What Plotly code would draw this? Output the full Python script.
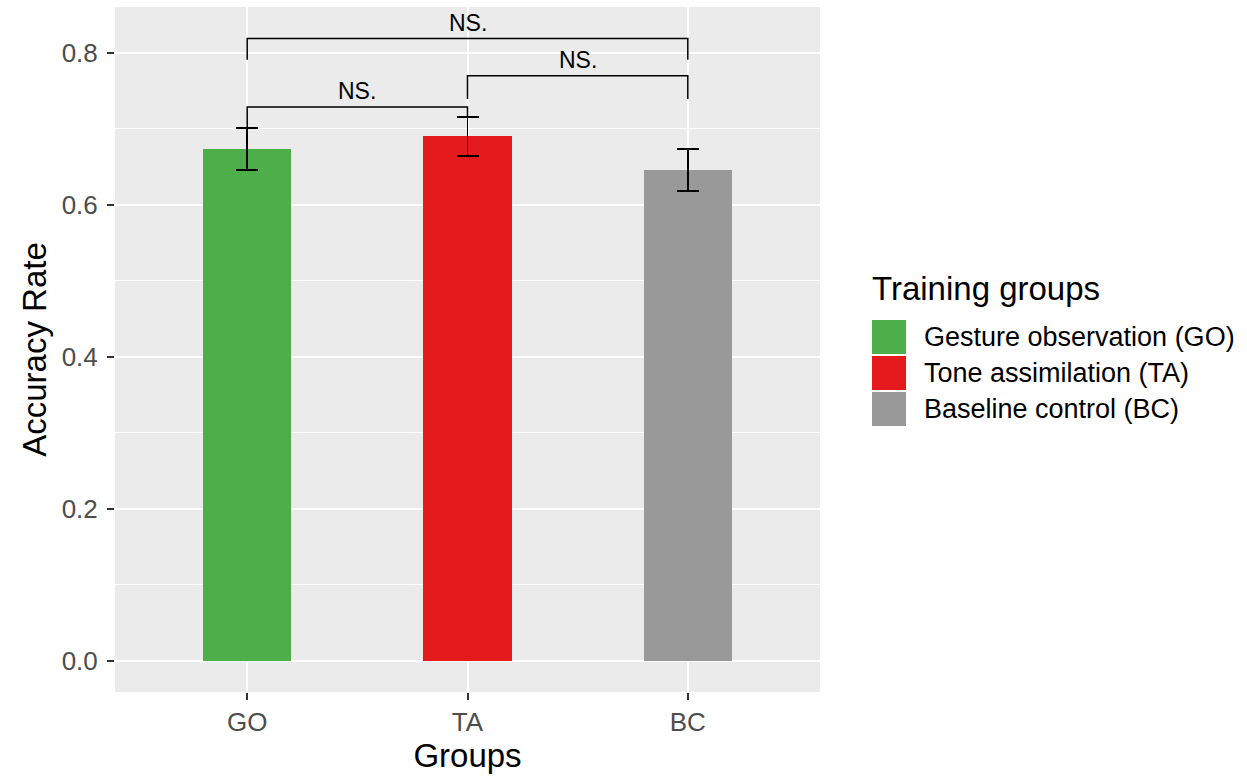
import plotly.graph_objects as go

# ---- data ----
categories = ["GO", "TA", "BC"]
group_names = ["Gesture observation (GO)", "Tone assimilation (TA)", "Baseline control (BC)"]
accuracy = [0.6735, 0.6903, 0.6462]
std_err = [0.0275, 0.0258, 0.0275]
colors = ["#4DAF4A", "#E41A1C", "#999999"]

comp_left = ["GO", "TA", "GO"]
comp_right = ["TA", "BC", "BC"]
comp_y = [0.729, 0.770, 0.819]
comp_left_tip = [0.701, 0.7395, 0.791]
comp_right_tip = [0.716, 0.7395, 0.791]
comp_labels = ["NS.", "NS.", "NS."]

y_ticks = [0.0, 0.2, 0.4, 0.6, 0.8]

FONT = "Liberation Sans, Arial, Helvetica, sans-serif"
W, H = 1247, 776
ML, MR, MT, MB = 115, 427, 7, 84
PW, PH = W - ML - MR, H - MT - MB


def px_x(px):
    return (px - ML) / PW


def px_y(py):
    return (H - MB - py) / PH


fig = go.Figure()

fig.add_trace(go.Bar(
    x=categories, y=accuracy, width=0.4,
    marker=dict(color=colors, line=dict(width=0)),
    error_y=dict(type="data", array=std_err, visible=True,
                 color="black", thickness=1.5, width=11),
    showlegend=False, hoverinfo="x+y",
))

# significance brackets
for a, b, yb, lt, rt, lab in zip(comp_left, comp_right, comp_y,
                                  comp_left_tip, comp_right_tip, comp_labels):
    fig.add_trace(go.Scatter(
        x=[a, a, b, b], y=[lt, yb, yb, rt], mode="lines",
        line=dict(color="black", width=1.5), showlegend=False, hoverinfo="skip",
    ))
    xm = (categories.index(a) + categories.index(b)) / 2
    fig.add_annotation(x=xm, y=yb, xref="x", yref="y", text=lab, showarrow=False,
                       yanchor="bottom", yshift=1,
                       font=dict(family=FONT, size=23, color="black"))

# legend (drawn manually to match large ggplot keys)
fig.add_annotation(x=px_x(870), y=px_y(288), xref="paper", yref="paper",
                   text="Training groups", showarrow=False, xanchor="left",
                   yanchor="middle", font=dict(family=FONT, size=33, color="black"))
key_tops = [320, 356, 392]
for i, (name, col) in enumerate(zip(group_names, colors)):
    top = key_tops[i]
    fig.add_shape(type="rect", xref="paper", yref="paper",
                  x0=px_x(872), x1=px_x(906), y0=px_y(top + 34), y1=px_y(top),
                  fillcolor=col, line=dict(width=0))
    fig.add_annotation(x=px_x(922), y=px_y(top + 17), xref="paper", yref="paper",
                       text=name, showarrow=False, xanchor="left", yanchor="middle",
                       font=dict(family=FONT, size=27, color="black"))

fig.update_layout(
    width=W, height=H,
    margin=dict(l=ML, r=MR, t=MT, b=MB, pad=0),
    paper_bgcolor="white", plot_bgcolor="#EBEBEB",
    font=dict(family=FONT, color="black"),
    showlegend=False,
    bargap=0,
)
fig.update_xaxes(
    type="category", categoryorder="array", categoryarray=categories,
    range=[-0.6, 2.6], showgrid=True, gridcolor="white", gridwidth=2,
    ticks="outside", ticklen=7, tickwidth=2, tickcolor="#333333",
    tickfont=dict(family=FONT, size=26, color="#4D4D4D"),
    title=dict(text="Groups", font=dict(family=FONT, size=33, color="black"), standoff=6),
    zeroline=False, showline=False,
)
fig.update_yaxes(
    range=[-0.0408, 0.8605], tickvals=y_ticks, ticktext=[f"{v:.1f}" for v in y_ticks],
    showgrid=True, gridcolor="white", gridwidth=2,
    minor=dict(dtick=0.1, tick0=0.1, showgrid=True, gridcolor="white", gridwidth=1),
    ticks="outside", ticklen=7, tickwidth=2, tickcolor="#333333",
    tickfont=dict(family=FONT, size=26, color="#4D4D4D"),
    ticklabelstandoff=4,
    title=dict(text="Accuracy Rate", font=dict(family=FONT, size=33, color="black"), standoff=5),
    zeroline=False, showline=False,
)

fig.write_html("out.html",
               config={"displayModeBar": False},
               post_script="document.body.style.margin='0px';document.body.style.overflow='hidden';")
